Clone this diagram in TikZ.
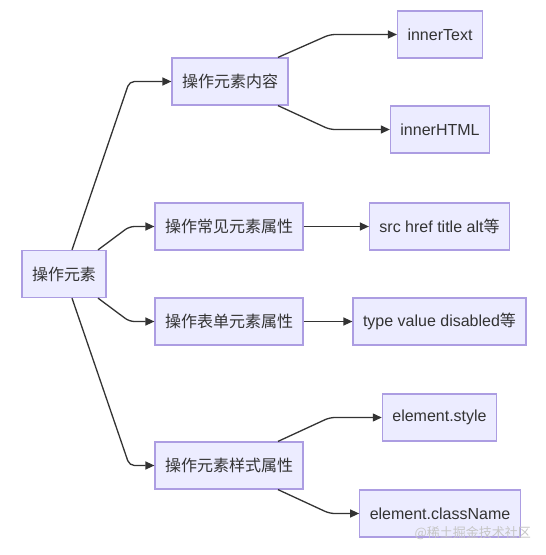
\documentclass[tikz,border=0pt]{standalone}
\usepackage{fontspec}
\setmainfont{Liberation Sans}
\newfontfamily\cjk{Noto Sans CJK SC}
\usetikzlibrary{arrows.meta,calc}
\definecolor{nodefill}{HTML}{ECECFF}
\definecolor{nodeline}{HTML}{AC9DE2}
\definecolor{edgecol}{HTML}{333333}
\begin{document}
\begin{tikzpicture}[x=1pt,y=-1pt,
  box/.style={draw=nodeline,fill=nodefill,line width=1.2pt,inner xsep=10pt,inner ysep=0pt,
    minimum height=47pt,font=\fontsize{16}{19}\selectfont,text=edgecol},
  arr/.style={draw=edgecol,line width=1.3pt,rounded corners=5pt,-{Triangle[length=9pt,width=8pt]}}]
\useasboundingbox[fill=white] (0,0) rectangle (546,555);

\node[box] (root) at (64,274) {\cjk 操作元素};
\node[box] (c1) at (230,81.5) {\cjk 操作元素内容};
\node[box] (c2) at (229,226.5) {\cjk 操作常见元素属性};
\node[box] (c3) at (229,321.5) {\cjk 操作表单元素属性};
\node[box] (c4) at (229,465.5) {\cjk 操作元素样式属性};
\node[box] (l1) at (440,34.5) {innerText};
\node[box] (l2) at (440,129.5) {innerHTML};
\node[box] (l3) at (439.5,226.5) {src href title alt{\cjk 等}};
\node[box] (l4) at (439.5,321.5) {type value disabled{\cjk 等}};
\node[box] (l5) at (439.5,417.5) {element.style};
\node[box] (l6) at (440,513.5) {element.className};

\draw[arr] ([xshift=8pt]root.north) -- ([xshift=-42pt]c1.west) -- (c1.west);
\draw[arr] ([xshift=34pt]root.north) -- ([xshift=-25pt]c2.west) -- (c2.west);
\draw[arr] ([xshift=34pt]root.south) -- ([xshift=-25pt]c3.west) -- (c3.west);
\draw[arr] ([xshift=8pt]root.south) -- ([xshift=-25pt]c4.west) -- (c4.west);

\draw[arr] ([xshift=48pt]c1.north) -- ([xshift=-67pt]l1.west) -- (l1.west);
\draw[arr] ([xshift=48pt]c1.south) -- ([xshift=-60pt]l2.west) -- (l2.west);
\draw[arr] (c2.east) -- (l3.west);
\draw[arr] (c3.east) -- (l4.west);
\draw[arr] ([xshift=49pt]c4.north) -- ([xshift=-52pt]l5.west) -- (l5.west);
\draw[arr] ([xshift=49pt]c4.south) -- ([xshift=-29.5pt]l6.west) -- (l6.west);

\node[anchor=east,text=gray!45,font=\cjk\fontsize{13}{15}\selectfont,inner sep=0pt] (wm) at (531,533) {@稀土掘金技术社区};
\end{tikzpicture}
\end{document}
